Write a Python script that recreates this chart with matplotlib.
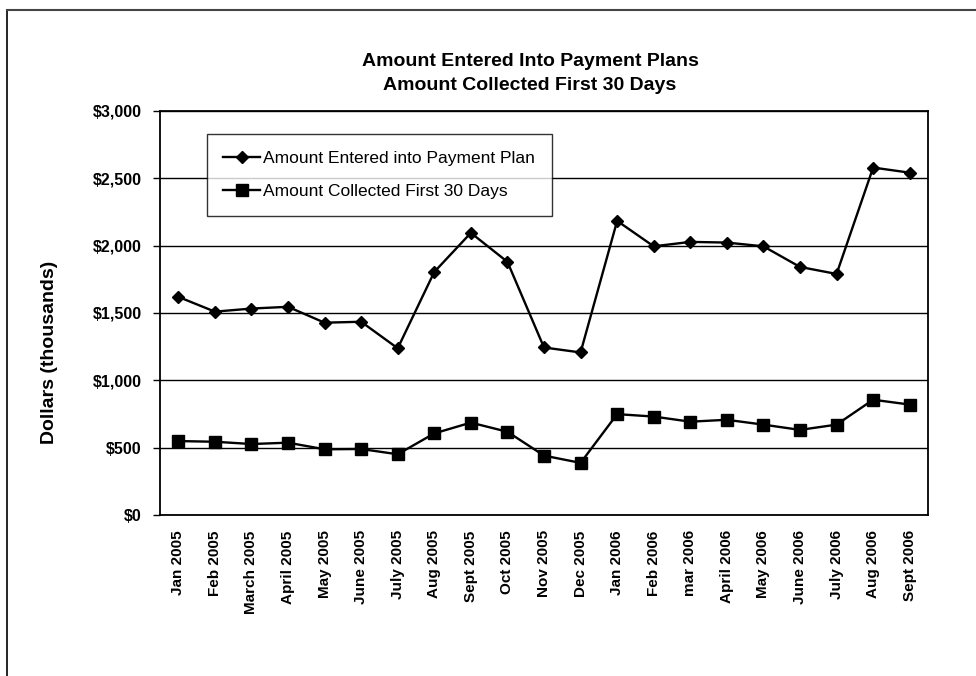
import numpy as np
import matplotlib
matplotlib.use("Agg")
import matplotlib.pyplot as plt
from matplotlib.lines import Line2D
from matplotlib.ticker import FuncFormatter

plt.rcParams['font.family'] = ['Liberation Sans', 'DejaVu Sans']

months = ["Jan 2005", "Feb 2005", "March 2005", "April 2005", "May 2005",
          "June 2005", "July 2005", "Aug 2005", "Sept 2005", "Oct 2005",
          "Nov 2005", "Dec 2005", "Jan 2006", "Feb 2006", "mar 2006",
          "April 2006", "May 2006", "June 2006", "July 2006", "Aug 2006",
          "Sept 2006"]

entered = [1620, 1510, 1533, 1546, 1428, 1435, 1238, 1805, 2095, 1880,
           1244, 1207, 2184, 1995, 2028, 2023, 1995, 1842, 1790, 2580,
           2542]
collected = [549, 544, 527, 537, 488, 490, 451, 606, 686, 618,
             441, 387, 749, 731, 693, 707, 671, 632, 671, 856,
             820]

fig = plt.figure(figsize=(9.76, 6.76), dpi=100)
W, H = 976, 676
ax = fig.add_axes([160 / W, 1 - 515 / H, (928 - 160) / W, (515 - 111) / H])

x = np.arange(len(months))
ax.plot(x, entered, color="black", lw=1.7, marker="D", ms=6.5,
        label="Amount Entered into Payment Plan")
ax.plot(x, collected, color="black", lw=1.7, marker="s", ms=8.5,
        label="Amount Collected First 30 Days")

ax.set_xlim(-0.5, len(months) - 0.5)
ax.set_ylim(0, 3000)
ax.set_yticks(np.arange(0, 3001, 500))
ax.yaxis.set_major_formatter(FuncFormatter(lambda v, p: f"${v:,.0f}"))
ax.yaxis.grid(True, color="black", lw=1.0)
ax.set_axisbelow(True)
ax.set_xticks(x)
ax.set_xticklabels(months, rotation=90, fontsize=11, fontweight="bold")
ax.tick_params(axis="x", length=0, pad=11)
ax.tick_params(axis="y", length=5, width=1, labelsize=11.5, direction="out", pad=8)
for lbl in ax.get_yticklabels():
    lbl.set_fontweight("bold")
for s in ax.spines.values():
    s.set_linewidth(1.3)

fig.text(50 / W, 1 - 352 / H, "Dollars (thousands)", rotation=90, ha="center",
         va="center", fontsize=14, fontweight="bold")

fig.text(530 / W, 1 - 62 / H, "Amount Entered Into Payment Plans", ha="center",
         va="center", fontsize=14, fontweight="bold")
fig.text(530 / W, 1 - 85 / H, "Amount Collected First 30 Days", ha="center",
         va="center", fontsize=14, fontweight="bold")

leg = ax.legend(loc="upper left", bbox_to_anchor=((207 - 160) / 768, 1 - (134 - 111) / 404),
                fontsize=12.5, frameon=True, fancybox=False, edgecolor="black",
                borderpad=0.95, labelspacing=1.05, handlelength=2.1, handletextpad=0.2,
                borderaxespad=0, markerscale=1.0)
leg.get_frame().set_linewidth(1.0)

# page frame around the chart
fig.add_artist(Line2D([7 / W, 7 / W], [0, 1 - 10 / H], color="black", lw=1.2))
fig.add_artist(Line2D([7 / W, 1], [1 - 10 / H, 1 - 10 / H], color="#444444", lw=1.5))

fig.savefig("out.png", dpi=100)
